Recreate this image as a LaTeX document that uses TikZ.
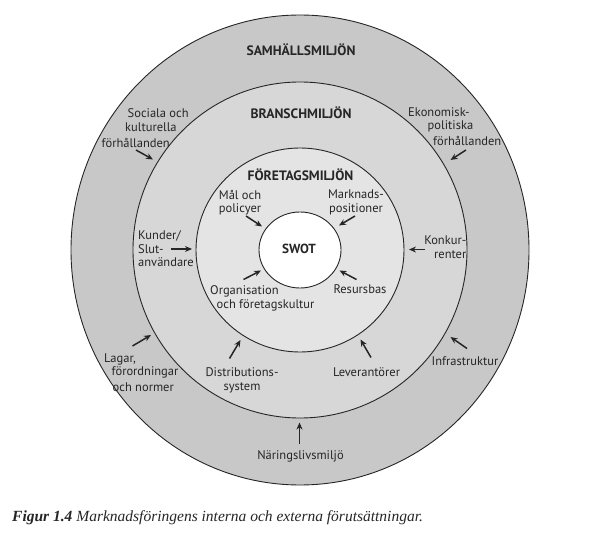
\documentclass[tikz,border=0pt]{standalone}
\usepackage{fontspec}
\setmainfont{PT Sans}
\newfontfamily\capfont{Liberation Serif}
\usetikzlibrary{arrows.meta}
\definecolor{ringA}{gray}{0.785}
\definecolor{ringB}{gray}{0.845}
\definecolor{ringC}{gray}{0.895}
\definecolor{ink}{gray}{0.15}
\tikzset{
  ringline/.style={draw=ink, line width=0.9pt},
  lbl/.style={inner sep=0pt, text=ink, font=\fontsize{12.5}{13.6}\selectfont},
  head/.style={inner sep=0pt, text=ink, font=\fontsize{13.6}{15}\selectfont\bfseries},
  arr/.style={draw=ink, line width=1.5pt, -{Stealth[length=7pt,width=6pt]}},
}
\begin{document}
\begin{tikzpicture}[x=1pt,y=-1pt]
\path[use as bounding box, fill=white] (0,0) rectangle (604,534);
\coordinate (c) at (300,250);
\path[ringline, fill=ringA] (c) ellipse [x radius=229, y radius=235];
\path[ringline, fill=ringB] (c) ellipse [x radius=167, y radius=168];
\path[ringline, fill=ringC] (c) ellipse [x radius=104, y radius=102];
\path[ringline, fill=white] (c) ellipse [x radius=41, y radius=38];

% headings
\node[head] (samh) at (301,50) {SAMHÄLLSMILJÖN};
\node[head] (bran) at (301,113) {BRANSCHMILJÖN};
\node[head] (fore) at (300.5,175) {FÖRETAGSMILJÖN};
\node[head, font=\fontsize{13.2}{15}\selectfont\bfseries] (swot) at (299,249) {SWOT};

% inner ring labels
\node[lbl, align=center] (mal) at (240,202.5) {Mål och\\policyer};
\node[lbl, align=center] (mark) at (356,202.5) {Marknads-\\positioner};
\node[lbl, anchor=west] (org1) at (210,291) {Organisation};
\node[lbl, anchor=west] (org2) at (216.5,305) {och företagskultur};
\node[lbl] (res) at (360,289.5) {Resursbas};

\coordinate (malA) at (246,216); \coordinate (malB) at (262,226.5);
\coordinate (markA) at (355,216); \coordinate (markB) at (339,225.5);
\coordinate (orgA) at (243.5,279.5); \coordinate (orgB) at (261,270.5);
\coordinate (resA) at (356.5,279.5); \coordinate (resB) at (339.5,270.5);
\draw[arr] (malA) -- (malB);
\draw[arr] (markA) -- (markB);
\draw[arr] (orgA) -- (orgB);
\draw[arr] (resA) -- (resB);

% middle ring labels
\node[lbl, anchor=west, align=left] (kund) at (138,249) {Kunder/\\Slut-\\användare};
\node[lbl, anchor=east, align=right] (konk) at (466.5,247) {Konkur-\\renter};
\node[lbl, align=center] (dist) at (242,380.3) {Distributions-\\system};
\node[lbl] (lev) at (366.5,372) {Leverantörer};

\coordinate (kundA) at (171,249); \coordinate (kundB) at (192,249);
\coordinate (konkA) at (425,249.5); \coordinate (konkB) at (409,249.5);
\coordinate (distA) at (229.5,358.5); \coordinate (distB) at (240.5,340);
\coordinate (levA) at (371,357.5); \coordinate (levB) at (360.5,339.5);
\draw[arr] (kundA) -- (kundB);
\draw[arr] (konkA) -- (konkB);
\draw[arr] (distA) -- (distB);
\draw[arr] (levA) -- (levB);

% outer ring labels
\node[lbl, anchor=west] (soc1) at (127.5,113) {Sociala och};
\node[lbl, anchor=west] (soc2) at (125,127.3) {kulturella};
\node[lbl, anchor=west] (soc3) at (101.5,142.5) {förhållanden};
\node[lbl, anchor=west] (eko1) at (408,111.7) {Ekonomisk-};
\node[lbl, anchor=west] (eko2) at (427.5,126) {politiska};
\node[lbl, anchor=west] (eko3) at (433,140.7) {förhållanden};
\node[lbl, anchor=west] (lag1) at (104,359.3) {Lagar,};
\node[lbl, anchor=west] (lag2) at (111.5,372.7) {förordningar};
\node[lbl, anchor=west] (lag3) at (112.5,387.3) {och normer};
\node[lbl, anchor=west] (inf) at (431.5,361) {Infrastruktur};
\node[lbl] (nar) at (300.5,456.7) {Näringslivsmiljö};

\coordinate (socA) at (136,150); \coordinate (socB) at (153,159.5);
\coordinate (ekoA) at (466,150); \coordinate (ekoB) at (450.5,160);
\coordinate (lagA) at (132.5,346); \coordinate (lagB) at (151,335);
\coordinate (infA) at (467,348.5); \coordinate (infB) at (450.5,337);
\coordinate (narA) at (299.5,443.5); \coordinate (narB) at (299.5,422.5);
\draw[arr] (socA) -- (socB);
\draw[arr] (ekoA) -- (ekoB);
\draw[arr] (lagA) -- (lagB);
\draw[arr] (infA) -- (infB);
\draw[arr] (narA) -- (narB);

% caption
\node[anchor=west, inner sep=0pt, text=ink, font=\capfont\fontsize{15.5}{17}\selectfont] (cap) at (12,518)
  {\textbf{\textit{Figur 1.4}} \textit{Marknadsföringens interna och externa förutsättningar.}};
\end{tikzpicture}
\end{document}
